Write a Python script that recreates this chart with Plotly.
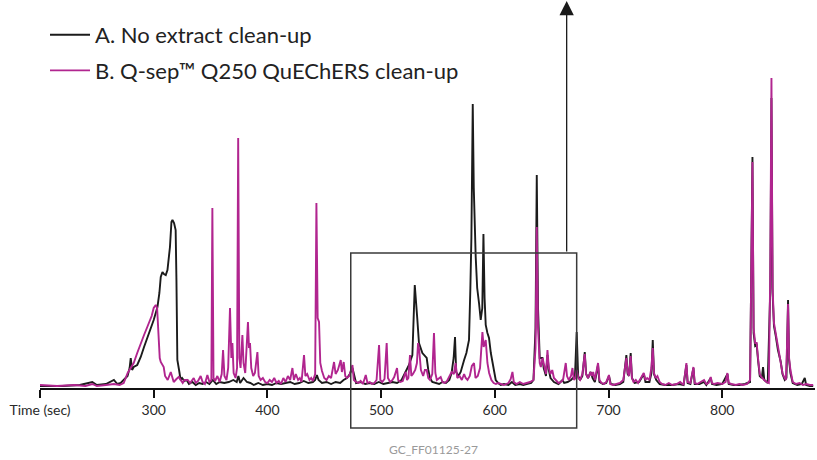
import plotly.graph_objects as go

# ---------------- data ----------------
# Trace A: No extract clean-up (time in s, relative response)
time_a = [200, 220, 235, 241, 246, 250, 258, 265, 268, 271, 273.6, 277, 278.8, 279.8, 281, 282.4,
          285.5, 288.6, 291.5, 294.7, 297, 298.5, 300, 303.3, 305, 306.2, 307.7, 309, 310.6, 312.1,
          313, 314.3, 315.6, 316.5, 317.9, 319.3, 320, 320.8, 322.3, 323.7, 325, 327, 329, 331, 334,
          337, 340, 343, 346, 349, 352, 355, 358, 362, 366, 370, 373, 374.5, 376, 379, 382, 385, 388,
          392, 396, 400, 404, 408, 412, 416, 420, 424, 428, 432, 436, 440, 442, 443.5, 445, 448, 452,
          456, 460, 464, 467, 470, 472.5, 474.8, 476.5, 478, 482, 486, 490, 494, 498, 502, 506, 510,
          514, 518, 521, 524.5, 527.5, 529.6, 531.9, 533.3, 536.3, 540.1, 541.5, 543, 545, 548, 551,
          554, 557, 560, 562, 563.8, 565, 566, 568, 570, 571.5, 573, 575, 577.3, 578.5, 579.4, 580.6,
          581.5, 583.2, 584.5, 586.1, 587.6, 589, 590, 591, 592, 593.5, 594.9, 596.5, 597.9, 599.5,
          600.8, 603, 605.2, 608, 612, 615, 618, 622, 625, 628, 632, 634, 635.8, 636.9, 638, 639.5,
          641.9, 643, 645, 646.3, 647.5, 649, 652, 656, 659.5, 661, 664, 667, 670.5, 672, 673.3, 675,
          677, 679.1, 680.3, 682, 684.3, 686, 688, 690.8, 692, 695, 698, 700.4, 702, 706, 710, 713,
          715.7, 716.8, 718, 719.5, 720.6, 723, 727, 731, 732.5, 736, 737.8, 738.9, 740, 742, 745, 750,
          756, 762, 766, 768.5, 769.6, 772, 774.7, 775.8, 780, 784, 786, 789.9, 791, 795, 800, 804.6,
          805.7, 810, 815, 820, 824.5, 826.6, 827.6, 829, 830.3, 831.5, 833, 834.8, 835.9, 837, 840,
          842.3, 843.3, 844.3, 845.5, 847.1, 849, 851.5, 853, 855, 856.5, 857.9, 858.8, 860, 862, 866,
          870, 872.6, 873.8, 877, 880]
resp_a = [2, 2, 3, 5, 6, 3, 4, 8, 4, 5, 8, 12, 20, 30, 18, 21,
          23, 31, 41, 51, 58, 62, 68, 81, 95, 111, 116, 114, 113, 118,
          128, 141, 166, 168, 165, 158, 108, 28, 18, 8, 10, 7, 8, 4, 6,
          3, 5, 4, 6, 4, 8, 4, 6, 5, 6, 8, 6, 12, 5, 10, 6, 5, 3,
          5, 3, 4, 3, 5, 4, 5, 6, 4, 5, 7, 5, 6, 8, 13, 8, 5, 6,
          4, 6, 5, 8, 10, 14, 20, 10, 5, 6, 4, 5, 4, 6, 4, 5, 6,
          5, 8, 15, 23, 33, 103, 68, 45, 35, 30, 18, 10, 6, 5, 4,
          6, 5, 8, 15, 30, 51, 16, 12, 16, 23, 28, 35, 48, 100, 150, 284,
          200, 131, 100, 85, 68, 80, 154, 90, 63, 55, 50, 35, 25, 15,
          8, 5, 3, 4, 3, 6, 3, 4, 3, 4, 5, 8, 60, 213, 80, 30,
          30, 20, 12, 33, 18, 10, 6, 4, 8, 5, 6, 8, 12, 56, 12, 8,
          12, 36, 14, 10, 16, 10, 6, 23, 6, 4, 5, 12, 4, 3, 4, 6,
          33, 14, 12, 35, 10, 5, 6, 14, 6, 6, 15, 48, 14, 8, 4, 3,
          3, 4, 3, 23, 5, 4, 20, 4, 4, 6, 3, 10, 4, 3, 4, 14,
          4, 3, 3, 4, 6, 231, 55, 42, 43, 28, 12, 10, 21, 8, 5,
          100, 290, 95, 62, 52, 38, 26, 14, 8, 10, 88, 28, 15, 5, 3,
          4, 10, 3, 2, 2]

# Trace B: Q-sep Q250 QuEChERS clean-up
time_b = [200, 215, 230, 240, 246, 250, 258, 265, 270, 273.6, 277.1, 280, 282.4, 285.5, 288.6, 291.5,
          294.7, 298.2, 300, 301.8, 303, 303.5, 305.3, 306.2, 308.8, 310, 312.3, 315, 317.6, 320, 322,
          325.5, 327, 329.9, 332, 335.2, 337, 339, 341.3, 343, 345, 347.2, 349, 350.7, 351.6, 352.6,
          354, 356, 358, 359.8, 361, 362.2, 364, 365.5, 367.1, 368.3, 369.2, 370.3, 372, 373.3, 374.3,
          375.3, 376.4, 378, 379, 380.5, 382.9, 383.8, 384.7, 385.8, 387.5, 389, 391.2, 392.3, 394,
          396, 398, 400, 402, 404, 406, 408, 410, 412, 414, 416, 418, 420, 422, 423.3, 425, 427,
          428.5, 430, 432.2, 433.4, 435, 437, 438.5, 440, 442, 443.1, 444.2, 445.4, 446.5, 448, 450,
          452, 454, 456, 458.6, 460, 462, 464.5, 465.5, 467.1, 468.5, 470, 472, 474.8, 476, 478, 480,
          482, 484, 486.5, 488, 490, 492, 494, 496, 498.2, 499.3, 501, 503, 504.9, 506, 508, 510,
          511.5, 512.8, 514, 515, 517, 519, 521.6, 522.8, 524, 525.4, 526.6, 528, 530, 531.5, 532.5,
          533.5, 535, 537, 538.5, 540.1, 541.5, 543, 545, 546.5, 547.7, 549, 551, 552.4, 554, 556,
          558, 560, 562, 564, 565.5, 567, 569, 571, 573, 574.4, 576, 578, 579.8, 581.7, 583, 585,
          587, 589.1, 590.2, 592, 593.5, 595, 597, 599, 601, 603, 605, 608, 612, 614, 615.5, 616.7,
          619, 622, 625, 628, 631, 634, 635.8, 636.9, 638, 639.5, 640.5, 642, 643.5, 645, 646.3,
          647.5, 649, 650.5, 652, 654, 656, 658, 660, 662.4, 663.5, 665, 667, 668.3, 669.5, 671, 672,
          673.5, 675, 677, 679.1, 680.2, 682, 684.3, 685.5, 686.5, 688, 690.8, 692, 694, 696, 698,
          700.4, 701.5, 704, 707, 710, 713, 715.7, 716.8, 718, 719.5, 720.6, 722, 724, 726, 728, 731,
          732.5, 734, 736, 737.7, 738.9, 740, 741.5, 743, 745, 747, 750, 753, 756, 760, 763, 766,
          768.5, 769.6, 772, 774.7, 775.8, 778, 781, 784, 786, 788, 789.9, 791, 793, 796, 800, 803,
          804.6, 805.7, 808, 812, 815, 818, 822, 824.5, 826.6, 827.6, 829, 830.3, 831.5, 833, 835,
          837, 839, 841, 842.3, 843.3, 844.3, 845.5, 847.1, 849, 851.5, 853, 854.5, 856, 857.2,
          857.9, 858.8, 860, 862, 865, 868, 871, 874, 877, 880]
resp_b = [3, 2, 3, 2, 4, 2, 3, 4, 3, 5, 15, 20, 25, 35, 45, 53,
          62, 72, 80, 83, 80, 70, 30, 26, 21, 12, 8, 16, 6, 9, 11,
          5, 8, 8, 5, 10, 5, 7, 12, 6, 4, 13, 6, 8, 180, 10,
          7, 12, 6, 14, 38, 12, 8, 20, 80, 30, 45, 15, 10, 20, 250,
          30, 20, 53, 25, 15, 66, 40, 45, 20, 12, 15, 36, 12, 8,
          10, 6, 5, 8, 6, 10, 5, 7, 4, 10, 6, 12, 8, 20, 8, 14, 8,
          10, 6, 33, 12, 14, 8, 10, 7, 14, 185, 70, 66, 25, 17, 10,
          8, 12, 10, 26, 14, 18, 28, 16, 26, 12, 10, 12, 23, 8, 6, 5,
          7, 4, 13, 5, 6, 4, 5, 8, 43, 8, 6, 9, 45, 10, 6, 8,
          11, 16, 20, 8, 6, 7, 16, 8, 10, 33, 12, 14, 18, 25, 45,
          38, 18, 12, 18, 18, 10, 8, 14, 55, 15, 8, 10, 11, 6, 5,
          7, 12, 16, 14, 25, 10, 12, 8, 14, 10, 8, 12, 22, 25, 10, 12,
          20, 56, 41, 48, 25, 15, 8, 5, 4, 5, 4, 3, 5, 9, 16, 6,
          4, 6, 4, 5, 6, 8, 40, 161, 60, 25, 21, 30, 20, 14, 38,
          20, 14, 18, 10, 8, 5, 6, 8, 25, 12, 8, 12, 20, 8, 10, 18,
          10, 8, 14, 34, 14, 10, 16, 12, 16, 8, 25, 8, 5, 4, 6,
          13, 4, 3, 4, 5, 8, 30, 16, 12, 32, 10, 6, 8, 5, 9, 15,
          8, 10, 8, 20, 40, 15, 10, 12, 6, 4, 3, 5, 3, 4, 6, 3,
          25, 6, 5, 21, 5, 4, 6, 8, 4, 5, 11, 5, 4, 5, 4, 6,
          15, 5, 4, 3, 4, 3, 4, 8, 226, 60, 45, 45, 30, 14, 10,
          8, 6, 5, 120, 310, 100, 65, 55, 40, 28, 15, 11, 8, 50,
          84, 30, 18, 6, 4, 5, 3, 4, 3, 3]

tick_vals = [200, 300, 400, 500, 600, 700, 800]
tick_text = ["Time (sec)", "300", "400", "500", "600", "700", "800"]

name_a = "A. No extract clean-up"
name_b = "B. Q-sep\u2122 Q250 QuEChERS clean-up"

zoom_window = (473.3, 672)   # boxed time region
arrow_time = 663.2
figure_id = "GC_FF01125-27"

# ---------------- figure ----------------
BLACK = "#1b1b1b"
MAGENTA = "#b1258f"
FONT = "Lato"

fig = go.Figure()
fig.add_trace(go.Scatter(x=time_a, y=resp_a, mode="lines", name=name_a,
                         line=dict(color=BLACK, width=1.9), legendgroup="a"))
fig.add_trace(go.Scatter(x=time_b, y=resp_b, mode="lines", name=name_b,
                         line=dict(color=MAGENTA, width=1.9), legendgroup="b"))

W, H = 817, 460
ML, MR, MT, MB = 40, 2, 0, 72
plot_h = H - MT - MB
plot_w = W - ML - MR

def py(ypx):
    """pixel row -> paper y"""
    return (H - MB - ypx) / plot_h

def px(xpx):
    """pixel column -> paper x"""
    return (xpx - ML) / plot_w

fig.add_shape(type="rect", xref="x", yref="paper",
              x0=zoom_window[0], x1=zoom_window[1], y0=py(428), y1=py(253),
              line=dict(color="#3a3a3a", width=1.5), fillcolor="rgba(0,0,0,0)")

fig.add_annotation(x=arrow_time, y=py(0), xref="x", yref="paper",
                   ax=0, ay=253, axref="pixel", ayref="pixel",
                   text="", showarrow=True, arrowhead=2, arrowsize=2.2,
                   arrowwidth=1.3, arrowcolor="#1a1a1a")

fig.add_annotation(x=px(433), y=py(450), xref="paper", yref="paper",
                   xanchor="center", yanchor="middle",
                   text=figure_id, showarrow=False,
                   font=dict(family=FONT, size=12, color="#9a9a9a"))

fig.update_layout(
    width=W, height=H,
    margin=dict(l=ML, r=MR, t=MT, b=MB, autoexpand=False),
    plot_bgcolor="white", paper_bgcolor="white",
    font=dict(family=FONT, color="#2a2a2a"),
    showlegend=True,
    legend=dict(x=px(45), y=py(14), xanchor="left", yanchor="top",
                font=dict(family=FONT, size=22, color="#222222"),
                bgcolor="rgba(0,0,0,0)", tracegroupgap=4,
                itemwidth=40),
    xaxis=dict(range=[200, 881.6], showgrid=False, zeroline=False,
               automargin=False,
               showline=True, linecolor="#111111", linewidth=1.5,
               ticks="outside", ticklen=8, tickwidth=1.5, tickcolor="#111111",
               tickvals=tick_vals, ticktext=tick_text,
               tickfont=dict(family=FONT, size=14, color="#2a2a2a")),
    yaxis=dict(range=[0, 388], visible=False, showgrid=False, zeroline=False),
)

fig.write_html("out.html", config={"displayModeBar": False},
               post_script="document.body.style.margin='0';document.body.style.overflow='hidden';")
